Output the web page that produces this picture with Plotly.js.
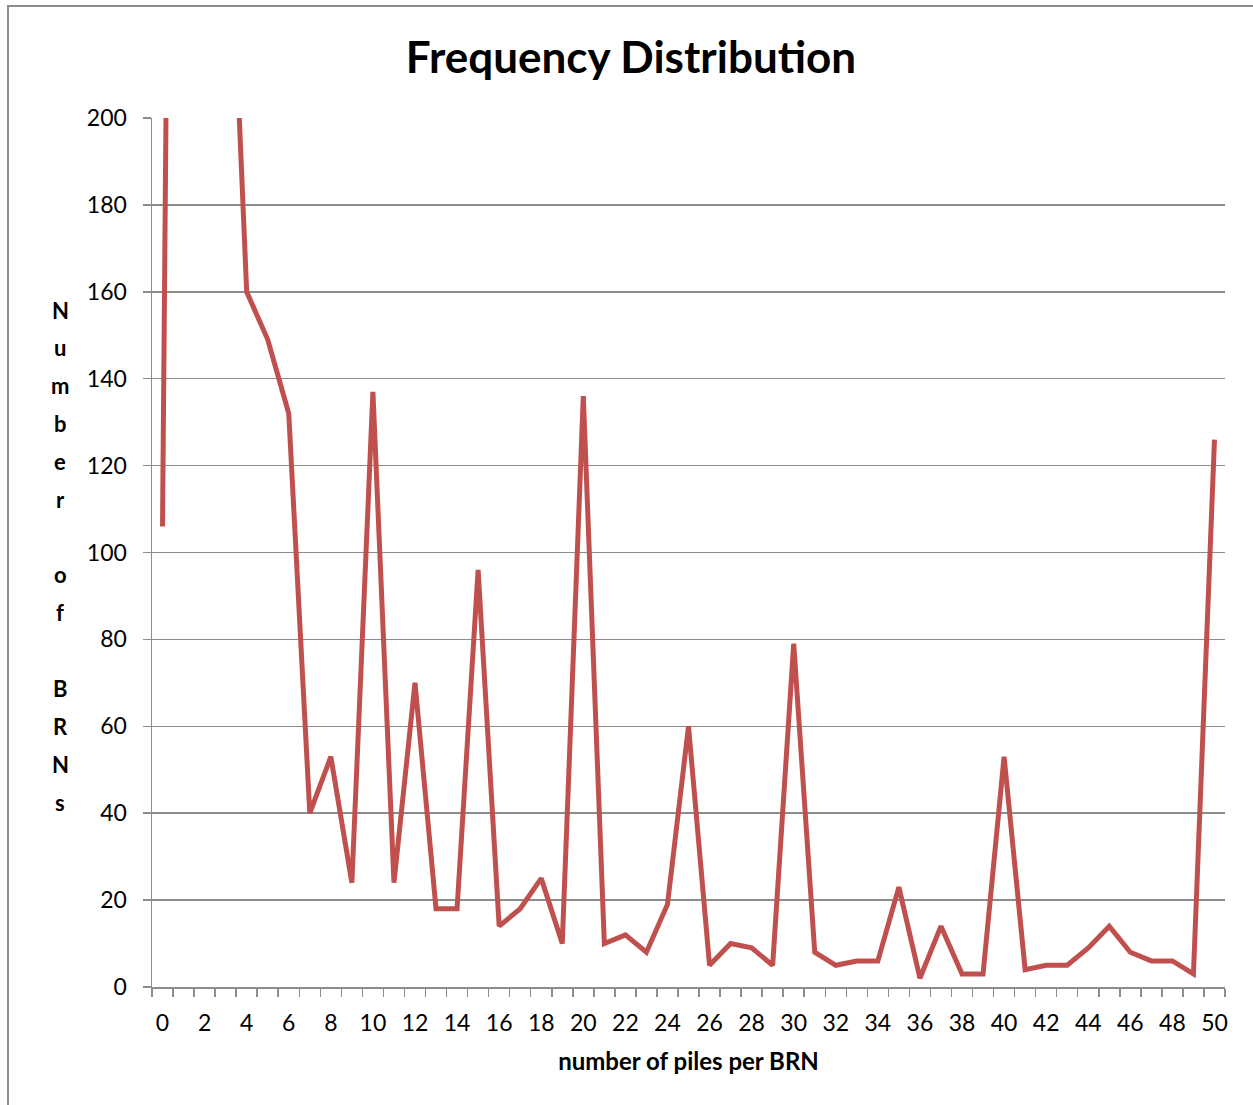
<!DOCTYPE html>
<html>
<head>
<meta charset="utf-8">
<script src="https://cdn.plot.ly/plotly-3.0.1.min.js"></script>
<style>
html,body{margin:0;padding:0;background:#fff;}
#wrap{position:relative;width:1253px;height:1105px;overflow:hidden;}
#chart{position:absolute;left:0;top:0;width:1253px;height:1105px;}
#frame{position:absolute;left:7px;top:5px;width:1300px;height:1200px;border:2px solid #8c8c8c;pointer-events:none;box-sizing:border-box;}
</style>
</head>
<body>
<div id="wrap"><div id="chart"></div><div id="frame"></div></div>
<script>
// Data
const piles = [];
for (let i = 0; i <= 50; i++) piles.push(i);
const brnCounts = [106, 680, 450, 274, 160, 149, 132, 40, 53, 24,
  137, 24, 70, 18, 18, 96, 14, 18, 25, 10,
  136, 10, 12, 8, 19, 60, 5, 10, 9, 5,
  79, 8, 5, 6, 6, 23, 2, 14, 3, 3,
  53, 4, 5, 5, 9, 14, 8, 6, 6, 3,
  126];
const titleText = "Frequency Distribution";
const xTitleText = "number of piles per BRN";
const yTitleText = "Number of BRNs";

const FONT = "Lato, 'Open Sans', sans-serif";
const W = 1253, H = 1105;
const mL = 152, mR = 28, mT = 118, mB = 118;
const plotH = H - mT - mB;
const plotW = W - mL - mR;

// Vertical stacked y-title letters
const annotations = [];
const chars = yTitleText.split("");
const yTop = 310, yBot = 802;
const step = (yBot - yTop) / (chars.length - 1);
chars.forEach((c, i) => {
  if (c === " ") return;
  const ypx = yTop + i * step;
  annotations.push({
    text: c, xref: "paper", yref: "paper",
    x: (60 - mL) / plotW, y: (H - mB - ypx) / plotH,
    xanchor: "center", yanchor: "middle", showarrow: false,
    font: {family: FONT, size: 22, color: "#000", weight: "bold"}
  });
});

const trace = {
  x: piles, y: brnCounts, type: "scatter", mode: "lines",
  line: {color: "#C0504D", width: 5, shape: "linear"},
  hoverinfo: "x+y"
};

const layout = {
  width: W, height: H,
  margin: {l: mL, r: mR, t: mT, b: mB, pad: 0},
  paper_bgcolor: "#fff", plot_bgcolor: "#fff",
  showlegend: false,
  font: {family: FONT, color: "#000"},
  title: {
    text: "<b>" + titleText + "</b>",
    x: 631 / W, xref: "container", xanchor: "center",
    y: 1 - 58 / H, yref: "container", yanchor: "middle",
    font: {family: FONT, size: 44, color: "#000"}
  },
  xaxis: {
    range: [-0.5, 50.5], tickmode: "linear", tick0: 0, dtick: 2,
    ticks: "", showgrid: false, zeroline: false,
    showline: true, linecolor: "#8c8c8c", linewidth: 1.5,
    tickfont: {family: FONT, size: 23, color: "#000"},
    ticklabelstandoff: 15,
    minor: {tick0: -0.5, dtick: 1, ticks: "outside", ticklen: 8, tickcolor: "#8c8c8c", tickwidth: 1.5, showgrid: false},
    title: {text: "<b>" + xTitleText + "</b>", font: {family: FONT, size: 24, color: "#000"}, standoff: 18}
  },
  yaxis: {
    range: [0, 200], tickmode: "linear", tick0: 0, dtick: 20,
    ticks: "outside", ticklen: 8, tickcolor: "#8c8c8c", tickwidth: 1.5,
    showgrid: true, gridcolor: "#8c8c8c", gridwidth: 1.5,
    zeroline: false, showline: true, linecolor: "#8c8c8c", linewidth: 1.5,
    tickfont: {family: FONT, size: 23, color: "#000"},
    ticklabelstandoff: 11
  },
  annotations: annotations
};

Plotly.newPlot("chart", [trace], layout, {displayModeBar: false, staticPlot: true});
</script>
</body>
</html>
